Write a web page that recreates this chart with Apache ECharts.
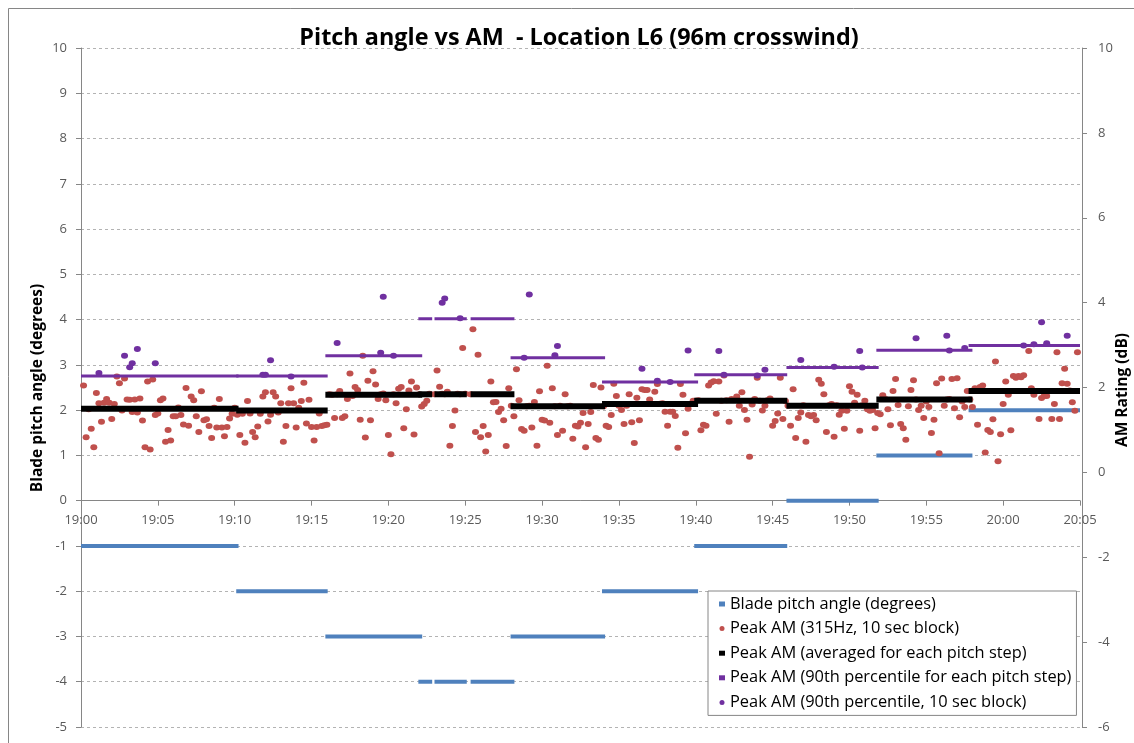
<!DOCTYPE html>
<html>
<head>
<meta charset="utf-8">
<script src="https://cdn.jsdelivr.net/npm/echarts@6/dist/echarts.min.js"></script>
<style>
  html, body { margin: 0; padding: 0; background: #fff; }
  #chart { width: 1134px; height: 743px; }
</style>
</head>
<body>
<div id="chart"></div>
<script>
// ---------------- DATA ----------------
// x axis: minutes after 19:00 (tick labels every 5 min, 19:00 ... 20:05)
const xMin = 0, xMax = 65, xStep = 5;

// Pitch steps (start / end in minutes after 19:00)
const stepStart   = [0, 10.1, 15.9, 21.95, 23.0, 25.35, 27.95, 33.9, 39.9, 45.9, 51.75, 57.75];
const stepEnd     = [10.25, 16.05, 22.2, 22.85, 25.1, 28.2, 34.1, 40.15, 45.95, 51.9, 58.0, 65];
const bladePitch  = [-1, -2, -3, -4, -4, -4, -3, -2, -1, 0, 1, 2];          // degrees (left axis)
const amAverage   = [1.50, 1.46, 1.83, 1.84, 1.84, 1.84, 1.56, 1.61, 1.69, 1.57, 1.72, 1.92]; // dB
const amP90Step   = [2.27, 2.27, 2.75, 3.62, 3.62, 3.62, 2.70, 2.13, 2.30, 2.47, 2.88, 2.99]; // dB

// Peak AM (315Hz, 10 sec blocks), dB, one value every 10 s from each start time
const amStart1 = '19:00:10';
const peakAM1 = [2.05,0.83,1.49,1.03,0.59,1.87,1.63,1.19,1.64,1.73,
  1.64,1.26,1.61,2.26,2.10,1.46,2.21,1.72,1.71,1.42,
  1.72,1.41,1.74,1.22,0.59,2.14,0.54,2.19,1.35,1.39,
  1.70,1.74,0.72,1.00,0.75,1.32,1.32,1.53,1.35,1.13,
  1.99,1.10,1.79,1.70,1.32,0.95,1.91,1.23,1.25,1.09,
  0.81,1.52,1.06,1.73,1.06,0.85,1.07,1.27,1.38,1.52];
const amStart2 = '19:10:10';
const peakAM2 = [1.36,0.88,1.38,0.70,1.68,1.39,0.95,0.83,1.08,1.38,
  1.79,1.89,1.20,1.36,1.89,1.79,1.41,1.63,0.72,1.09,
  1.63,1.98,1.63,1.06,1.52,1.68,2.11,1.15,1.71,1.07,
  0.75,1.07,1.39,1.09,1.11];
const amStart3 = '19:16:00';
const peakAM3 = [1.12,1.84,1.83,1.28,1.84,1.92,1.28,1.32,1.73,2.33,
  1.80,2.01,1.94,1.24,2.75,0.82,2.16,1.23,2.38,2.07,
  1.73,1.84,1.86,1.70,0.88,0.43,1.84,1.63,1.97,2.01,
  1.04,1.49,1.93,2.14,0.89,2.00];
const amStart4 = '19:22:00';
const peakAM4 = [1.84,1.55,1.61,1.69,1.85,null,1.84,2.40,2.02,1.85,
  1.84,1.90,0.63,1.09,1.46,1.85,1.84,2.93,1.85,null,
  1.84,3.37,0.95,2.77,0.83,1.09,0.49,0.88,2.14,1.65,
  1.66,1.42,1.50,1.23,0.62,1.98];
const amStart5 = '19:28:00';
const peakAM5 = [1.57,1.32,2.43,1.70,1.02,0.98,1.56,1.57,1.06,1.66,
  0.63,1.91,1.24,1.22,2.51,1.17,1.98,1.56,0.88,1.57,
  0.98,1.84,1.56,1.57,0.79,1.10,1.08,1.17,1.40,0.59,
  1.14,1.42,2.06,0.81,0.77,2.00];
const amStart6 = '19:34:00';
const peakAM6 = [1.56,1.10,1.07,1.35,2.09,1.80,1.57,1.47,1.14,1.57,
  1.84,1.18,0.69,1.76,1.23,1.96,1.94,1.94,1.72,1.61,
  1.90,2.08,1.62,1.63,1.43,1.10,1.43,1.43,1.33,0.58,
  2.08,1.83,0.92,1.50,1.62,1.69];
const amStart7 = '19:40:00';
const peakAM7 = [1.69,1.70,0.99,1.12,1.10,2.05,2.12,2.15,1.38,2.14,
  1.69,2.28,1.70,1.19,1.73,1.71,1.79,1.57,1.89,1.47,
  1.24,0.37,1.60,1.73,2.23,1.69,1.46,1.57,1.70,1.74,
  1.10,1.21,1.39,2.23,1.26,1.68];
const amStart8 = '19:46:00';
const peakAM8 = [1.57,1.10,1.96,0.81,1.28,1.41,1.58,0.72,1.35,1.32,
  1.35,1.23,2.18,2.09,1.84,0.95,1.58,1.61,0.84,1.58,
  1.36,1.45,1.03,1.45,2.03,1.90,1.64,1.83,0.98,1.58,
  1.69,1.49,1.45,1.47,1.04,1.40];
const amStart9 = '19:52:00';
const peakAM9 = [1.37,1.82,1.73,1.49,1.11,1.92,2.20,1.59,1.14,1.04,
  0.77,1.56,1.94,2.17,1.72,1.47,1.57,1.28,1.67,1.54,
  0.93,1.24,2.10,0.45,2.21,1.57,1.72,1.73,2.20,1.51,
  2.22,1.30,1.67,1.54,1.92,1.72];
const amStart10 = '19:58:00';
const peakAM10 = [1.54,1.98,1.12,2.01,2.05,0.47,1.00,0.95,1.25,2.61,
  0.26,0.90,1.61,2.14,1.83,0.99,2.27,2.23,2.27,2.24,
  2.29,1.92,2.86,1.98,1.83,1.92,1.26,1.75,1.80,1.80,
  1.92,1.26,1.61,2.83,1.26,2.10,2.44,2.09,1.93,1.65,
  1.45,2.83];

// Peak AM (90th percentile, 10 sec block), dB
const p90Times = ['19:01:10','19:02:50','19:03:10','19:03:20','19:03:40','19:04:50',
  '19:11:50','19:12:00','19:12:20','19:13:40','19:16:40','19:19:30','19:19:40','19:20:20',
  '19:23:30','19:23:40','19:24:40','19:28:50','19:29:10','19:30:50','19:31:00',
  '19:36:30','19:37:30','19:38:20','19:39:30','19:41:30','19:41:50','19:44:00','19:44:30',
  '19:46:50','19:49:00','19:50:40','19:50:50','19:54:20','19:56:20','19:56:30','19:57:30',
  '20:01:20','20:02:00','20:02:30','20:02:50','20:04:10'];
const p90Values = [2.34,2.75,2.48,2.57,2.91,2.57,
  2.30,2.30,2.64,2.26,3.05,2.82,4.14,2.75,
  4.00,4.10,3.63,2.70,4.19,2.76,2.98,
  2.44,2.16,2.13,2.87,2.86,2.30,2.28,2.42,
  2.65,2.49,2.86,2.47,3.16,3.22,2.87,2.93,
  2.99,3.02,3.54,3.04,3.22];

const names = {
  blade: 'Blade pitch angle (degrees)',
  peak: 'Peak AM (315Hz, 10 sec block)',
  avg: 'Peak AM (averaged for each pitch step)',
  p90s: 'Peak AM (90th percentile for each pitch step)',
  p90b: 'Peak AM (90th percentile, 10 sec block)'
};

// ---------------- BUILD ----------------
function toMin(s) {
  const p = s.split(':').map(Number);
  return (p[0] - 19) * 60 + p[1] + p[2] / 60;
}
const amBlocks = [
  [amStart1, peakAM1], [amStart2, peakAM2], [amStart3, peakAM3], [amStart4, peakAM4],
  [amStart5, peakAM5], [amStart6, peakAM6], [amStart7, peakAM7], [amStart8, peakAM8],
  [amStart9, peakAM9], [amStart10, peakAM10]
];
const peakData = [];
amBlocks.forEach(([st, arr]) => {
  const t0 = toMin(st);
  arr.forEach((v, i) => { if (v !== null) peakData.push([t0 + i * 10 / 60, v]); });
});
const p90Data = p90Times.map((t, i) => [toMin(t), p90Values[i]]);

const FONT = '"Open Sans", sans-serif';
const series = [];
stepStart.forEach((s, i) => {
  series.push({
    name: names.blade, type: 'line', yAxisIndex: 0, symbol: 'none', silent: true, z: 2,
    data: [[s, bladePitch[i]], [stepEnd[i], bladePitch[i]]],
    lineStyle: { color: '#4f81bd', width: 4, cap: 'butt' }, itemStyle: { color: '#4f81bd' }
  });
});
series.push({
  name: names.peak, type: 'scatter', yAxisIndex: 1, data: peakData, z: 3,
  symbol: 'circle', symbolSize: [7, 6], itemStyle: { color: '#c0504d', opacity: 1 }
});
stepStart.forEach((s, i) => {
  series.push({
    name: names.avg, type: 'line', yAxisIndex: 1, symbol: 'none', silent: true, z: 4,
    data: [[s, amAverage[i]], [stepEnd[i], amAverage[i]]],
    lineStyle: { color: '#000', width: 6, cap: 'butt' }, itemStyle: { color: '#000' }
  });
});
stepStart.forEach((s, i) => {
  series.push({
    name: names.p90s, type: 'line', yAxisIndex: 1, symbol: 'none', silent: true, z: 5,
    data: [[s, amP90Step[i]], [stepEnd[i], amP90Step[i]]],
    lineStyle: { color: '#7030a0', width: 3, cap: 'butt' }, itemStyle: { color: '#7030a0' }
  });
});
series.push({
  name: names.p90b, type: 'scatter', yAxisIndex: 1, data: p90Data, z: 6,
  symbol: 'circle', symbolSize: [7, 6], itemStyle: { color: '#7030a0', opacity: 1 }
});

function fmtTime(v) {
  const h = 19 + Math.floor(v / 60);
  const m = Math.round(v % 60);
  return h + ':' + String(m).padStart(2, '0');
}

const axisGray = '#868686';
const labelGray = '#595959';
const GRID_TOP = 48, GRID_BOTTOM = 16, CHART_H = 743;
const LEFT_MIN = -5, LEFT_MAX = 10;
// shift the time axis up from the grid bottom to the 0 line of the left axis
const plotH = CHART_H - GRID_TOP - GRID_BOTTOM;
const zeroOffset = -plotH * (0 - LEFT_MIN) / (LEFT_MAX - LEFT_MIN);

const option = {
  animation: false,
  backgroundColor: '#fff',
  title: {
    text: 'Pitch angle vs AM  - Location L6 (96m crosswind)',
    left: 574, top: 22, textAlign: 'center',
    textStyle: { fontFamily: FONT, fontSize: 23.4, fontWeight: 'bold', color: '#000' }
  },
  grid: { left: 81, right: 54, top: GRID_TOP, bottom: GRID_BOTTOM, containLabel: false },
  xAxis: {
    type: 'value', min: xMin, max: xMax, interval: xStep, offset: zeroOffset,
    axisLine: { show: true, onZero: false, lineStyle: { color: axisGray, width: 1 } },
    axisTick: { show: true, length: 5, lineStyle: { color: axisGray } },
    axisLabel: { formatter: fmtTime, color: labelGray, fontFamily: FONT, fontSize: 13, margin: 13 },
    splitLine: { show: false }
  },
  yAxis: [
    {
      type: 'value', min: LEFT_MIN, max: LEFT_MAX, interval: 1, position: 'left',
      axisLine: { show: true, onZero: false, lineStyle: { color: axisGray } },
      axisTick: { show: true, length: 5, lineStyle: { color: axisGray } },
      axisLabel: { color: labelGray, fontFamily: FONT, fontSize: 13, margin: 14 },
      splitLine: { show: true, lineStyle: { color: '#b3b3b3', type: [3, 3], width: 1 } }
    },
    {
      type: 'value', min: -6, max: 10, interval: 2, position: 'right', offset: 2,
      axisLine: { show: true, onZero: false, lineStyle: { color: axisGray } },
      axisTick: { show: true, length: 5, lineStyle: { color: axisGray } },
      axisLabel: { color: labelGray, fontFamily: FONT, fontSize: 13, margin: 16 },
      splitLine: { show: false }
    }
  ],
  legend: {
    orient: 'vertical', left: 708, top: 591,
    backgroundColor: '#fff', borderColor: axisGray, borderWidth: 1, borderRadius: 0,
    padding: [5, 5, 5, 11], itemGap: 8.6, itemWidth: 6, itemHeight: 5,
    textStyle: { fontFamily: FONT, fontSize: 16.4, color: '#000' },
    data: [
      { name: names.blade, icon: 'rect' },
      { name: names.peak, icon: 'circle' },
      { name: names.avg, icon: 'rect' },
      { name: names.p90s, icon: 'rect' },
      { name: names.p90b, icon: 'circle' }
    ],
    selectedMode: false
  },
  graphic: [
    { type: 'rect', z: -10, silent: true, shape: { x: 8.5, y: 8.5, width: 1200, height: 800 },
      style: { fill: 'none', stroke: axisGray, lineWidth: 1 } },
    { type: 'text', x: 38, y: 388, rotation: Math.PI / 2, silent: true,
      style: { text: 'Blade pitch angle (degrees)', fontFamily: FONT, fontSize: 15.5, fontWeight: 'bold',
               fill: '#000', align: 'center', verticalAlign: 'middle' } },
    { type: 'text', x: 1123, y: 390, rotation: Math.PI / 2, silent: true,
      style: { text: 'AM Rating (dB)', fontFamily: FONT, fontSize: 15.5, fontWeight: 'bold',
               fill: '#000', align: 'center', verticalAlign: 'middle' } }
  ],
  series: series
};

const chart = echarts.init(document.getElementById('chart'), null, { renderer: 'canvas' });
chart.setOption(option);
</script>
</body>
</html>
